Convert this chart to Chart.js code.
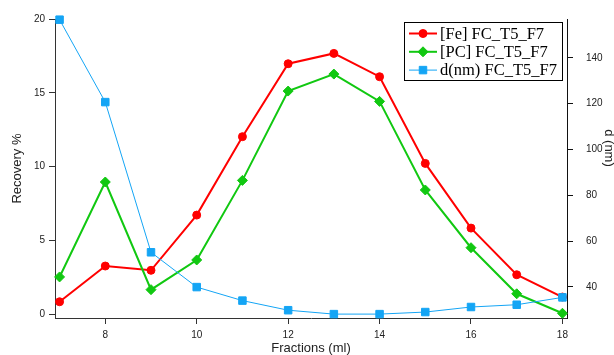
<!DOCTYPE html>
<html><head><meta charset="utf-8">
<script src="https://cdn.jsdelivr.net/npm/chart.js@4"></script>
<style>html,body{margin:0;padding:0;background:#fff;overflow:hidden}#wrap{width:614px;height:355px}</style>
</head><body><div id="wrap"><canvas id="c" width="614" height="355"></canvas></div>
<script>
const fractions = [7, 8, 9, 10, 11, 12, 13, 14, 15, 16, 17, 18];
const feRecovery = [0.85, 3.27, 2.98, 6.72, 12.03, 16.97, 17.67, 16.09, 10.22, 5.84, 2.68, 1.17];
const pcRecovery = [2.53, 8.96, 1.67, 3.68, 9.07, 15.12, 16.27, 14.42, 8.42, 4.51, 1.39, 0.07];
const diameterNm = [156.7, 120.7, 55.1, 39.9, 34.0, 29.8, 28.1, 28.1, 29.0, 31.2, 32.2, 35.4];
const xTicks = [8, 10, 12, 14, 16, 18];
const leftTicks = [0, 5, 10, 15, 20];
const rightTicks = [40, 60, 80, 100, 120, 140];
const seriesNames = ['[Fe] FC_T5_F7', '[PC] FC_T5_F7', 'd(nm) FC_T5_F7'];

const RED = '#ff0000', GREEN = '#11c811', BLUE = '#14a5f5';
const SANS = '"Liberation Sans", Arial, sans-serif';
const SERIF = '"Liberation Serif", "Times New Roman", serif';

function pts(ys) { return fractions.map((x, i) => ({x: x, y: ys[i]})); }

const legendPlugin = {
  id: 'igorLegend',
  afterDraw(chart) {
    const ctx = chart.ctx;
    ctx.save();
    const bx = 404, by = 22, bw = 158, bh = 58;
    ctx.fillStyle = '#fff';
    ctx.fillRect(bx, by, bw, bh);
    ctx.strokeStyle = '#000';
    ctx.lineWidth = 1;
    ctx.strokeRect(bx + 0.5, by + 0.5, bw, bh);
    chart.data.datasets.forEach((ds, i) => {
      const y = 33.5 + i * 18.3;
      ctx.strokeStyle = ds.borderColor;
      ctx.lineWidth = ds.borderWidth;
      ctx.beginPath();
      ctx.moveTo(409, y);
      ctx.lineTo(437, y);
      ctx.stroke();
      ctx.fillStyle = ds.pointBackgroundColor;
      ctx.strokeStyle = ds.pointBorderColor;
      ctx.lineWidth = 1;
      Chart.helpers.drawPoint(ctx, {pointStyle: ds.pointStyle, radius: ds.pointRadius, borderWidth: 1}, 423, y);
      ctx.fillStyle = '#000';
      ctx.font = '16.5px ' + SERIF;
      ctx.textBaseline = 'middle';
      ctx.textAlign = 'left';
      ctx.fillText(ds.label, 440, y + 1);
    });
    // right axis title
    ctx.translate(609, 148);
    ctx.rotate(Math.PI / 2);
    ctx.font = '13px ' + SANS;
    ctx.fillStyle = '#222';
    ctx.textAlign = 'center';
    ctx.textBaseline = 'middle';
    ctx.fillText('d (nm)', 0, 0);
    ctx.restore();
  }
};

new Chart(document.getElementById('c'), {
  type: 'line',
  data: {
    datasets: [
      {label: seriesNames[0], data: pts(feRecovery), yAxisID: 'y', borderColor: RED, backgroundColor: RED,
       pointBackgroundColor: RED, pointBorderColor: RED, borderWidth: 2, pointStyle: 'circle', pointRadius: 4, pointBorderWidth: 1, order: 3, clip: false},
      {label: seriesNames[1], data: pts(pcRecovery), yAxisID: 'y', borderColor: GREEN, backgroundColor: GREEN,
       pointBackgroundColor: GREEN, pointBorderColor: GREEN, borderWidth: 2, pointStyle: 'rectRot', pointRadius: 5, pointBorderWidth: 1, order: 2, clip: false},
      {label: seriesNames[2], data: pts(diameterNm), yAxisID: 'y2', borderColor: BLUE, backgroundColor: BLUE,
       pointBackgroundColor: BLUE, pointBorderColor: BLUE, borderWidth: 1, pointStyle: 'rect', pointRadius: 5.3, pointBorderWidth: 1, order: 1, clip: false}
    ]
  },
  options: {
    responsive: false,
    devicePixelRatio: 1,
    animation: false,
    layout: {padding: {top: 18, left: 0, right: 0, bottom: 0}},
    plugins: {legend: {display: false}, tooltip: {enabled: false}},
    elements: {line: {tension: 0}},
    scales: {
      x: {
        type: 'linear', position: 'bottom', min: 6.9, max: 18.1,
        afterBuildTicks: s => { s.ticks = xTicks.map(v => ({value: v})); },
        afterFit: s => { s.height = 37; },
        grid: {drawOnChartArea: false, tickLength: 6, color: '#333'},
        border: {color: '#333', width: 1},
        ticks: {font: {family: SANS, size: 10}, color: '#222', padding: 5, maxRotation: 0, autoSkip: false},
        title: {display: true, text: 'Fractions (ml)', font: {family: SANS, size: 13}, color: '#222', padding: {top: 0, bottom: -1}}
      },
      y: {
        type: 'linear', position: 'left', min: -0.25, max: 20.0,
        afterBuildTicks: s => { s.ticks = leftTicks.map(v => ({value: v})); },
        afterFit: s => { s.width = 55; },
        grid: {drawOnChartArea: false, tickLength: 6, color: '#333'},
        border: {color: '#333', width: 1},
        ticks: {font: {family: SANS, size: 10}, color: '#222', padding: 4},
        title: {display: true, text: 'Recovery %', font: {family: SANS, size: 13}, color: '#222', padding: {top: 10, bottom: 10}}
      },
      y2: {
        type: 'linear', position: 'right', min: 26.4, max: 157,
        afterBuildTicks: s => { s.ticks = rightTicks.map(v => ({value: v})); },
        afterFit: s => { s.width = 47; },
        grid: {drawOnChartArea: false, tickLength: 6, color: '#111'},
        border: {color: '#111', width: 1},
        ticks: {font: {family: SANS, size: 10}, color: '#222', padding: 13}
      }
    }
  },
  plugins: [legendPlugin]
});
</script></body></html>
